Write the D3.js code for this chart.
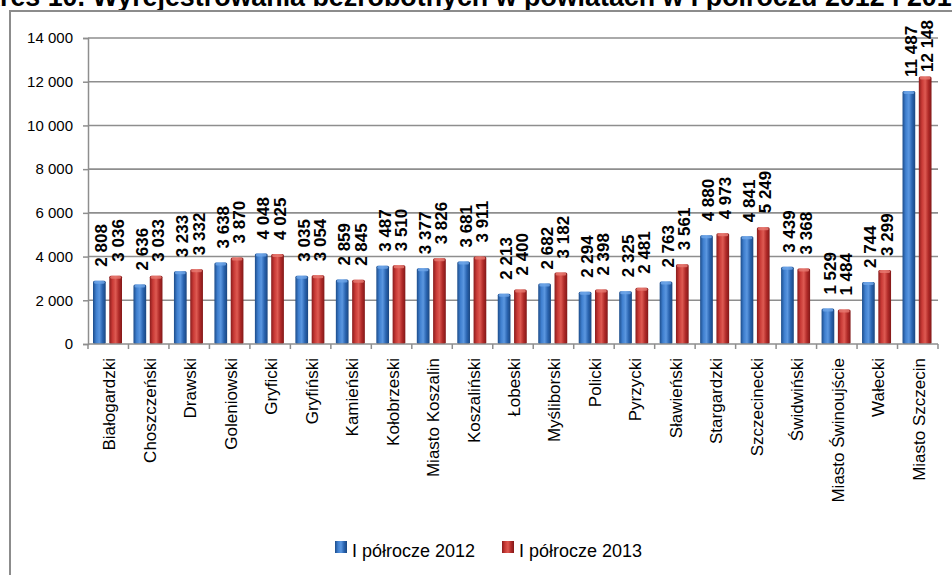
<!DOCTYPE html>
<html>
<head>
<meta charset="utf-8">
<script src="https://cdn.jsdelivr.net/npm/d3@7"></script>
<style>
  body { margin: 0; background: #fff; }
  svg { display: block; font-family: "Liberation Sans", Arial, sans-serif; }
</style>
</head>
<body>
<script>
// Data
const titleText = "Wykres 10. Wyrejestrowania bezrobotnych w powiatach w I półroczu 2012 i 2013";
const categories = ["Białogardzki", "Choszczeński", "Drawski", "Goleniowski", "Gryficki", "Gryfiński",
    "Kamieński", "Kołobrzeski", "Miasto Koszalin", "Koszaliński", "Łobeski", "Myśliborski", "Policki",
    "Pyrzycki", "Sławieński", "Stargardzki", "Szczecinecki", "Świdwiński", "Miasto Świnoujście",
    "Wałecki", "Miasto Szczecin"];
const values2012 = [2808, 2636, 3233, 3638, 4048, 3035, 2859, 3487, 3377, 3681, 2213, 2682, 2294, 2325,
    2763, 4880, 4841, 3439, 1529, 2744, 11487];
const values2013 = [3036, 3033, 3332, 3870, 4025, 3054, 2845, 3510, 3826, 3911, 2400, 3182, 2398, 2481,
    3561, 4973, 5249, 3368, 1484, 3299, 12148];
const seriesNames = ["I półrocze 2012", "I półrocze 2013"];
const yTicks = [0, 2000, 4000, 6000, 8000, 10000, 12000, 14000];

const width = 952, height = 575;
const plot = { left: 88, right: 938, top: 38, bottom: 344 };

const fmt = d3.formatLocale({ decimal: ",", thousands: " ", grouping: [3], currency: ["", ""] }).format(",d");

const svg = d3.select("body").append("svg")
    .attr("width", width)
    .attr("height", height);

// Gradients for the cylinder-like bars
const defs = svg.append("defs");
const grads = [
    { id: "gBlue", stops: ["#1c4c8a", "#3f7fcf", "#5b97e0", "#2a64b0", "#1a4680"] },
    { id: "gRed", stops: ["#8a1c1c", "#c93a36", "#de5a52", "#b02a28", "#821818"] }
];
grads.forEach(g => {
    const lg = defs.append("linearGradient").attr("id", g.id)
        .attr("x1", "0%").attr("x2", "100%").attr("y1", "0%").attr("y2", "0%");
    g.stops.forEach((c, i) => {
        lg.append("stop").attr("offset", (i / (g.stops.length - 1) * 100) + "%").attr("stop-color", c);
    });
});

// Title: only its lower part shows in the original, cut on both sides.
// Size it so "res 10. ... 2012 i 201" fills the width, with "Wyk" off the left edge.
const measure = (txt, size, weight) => {
    const t = svg.append("text").attr("font-weight", weight || "bold").attr("font-size", size).text(txt);
    const w = t.node().getComputedTextLength();
    t.remove();
    return w;
};
const visiblePart = titleText.slice(3, -1);
const titleSize = 20 * width / measure(visiblePart, 20);
svg.append("text")
    .attr("font-weight", "bold")
    .attr("font-size", titleSize)
    .attr("x", -measure("Wyk", titleSize))
    .attr("y", 6)
    .text(titleText);

// Chart frame
svg.append("path")
    .attr("d", `M10,${height + 2}V11H${width + 2}`)
    .attr("fill", "none")
    .attr("stroke", "#8c8c8c")
    .attr("stroke-width", 2);

// Scales
const x0 = d3.scaleBand()
    .domain(categories)
    .range([plot.left, plot.right]);

const x1 = d3.scaleBand()
    .domain([0, 1])
    .range([5, 34])
    .paddingInner(0.22);

const y = d3.scaleLinear()
    .domain([0, 14000])
    .range([plot.bottom, plot.top]);

// Gridlines
svg.append("g")
    .selectAll("line")
    .data(yTicks.filter(d => d > 0))
    .enter()
    .append("line")
    .attr("x1", plot.left)
    .attr("x2", plot.right)
    .attr("y1", d => y(d))
    .attr("y2", d => y(d))
    .attr("stroke", "#8e8e8e")
    .attr("stroke-width", 1.6);

// Y axis
const yAxis = svg.append("g")
    .attr("transform", `translate(${plot.left},0)`)
    .call(d3.axisLeft(y).tickValues(yTicks).tickSize(5).tickPadding(10).tickFormat(fmt));
yAxis.selectAll("text").attr("font-size", 15).attr("fill", "#000").attr("font-family", "Liberation Sans, Arial, sans-serif");
yAxis.selectAll("line").attr("stroke", "#8e8e8e").attr("stroke-width", 1.5);
yAxis.select(".domain").attr("stroke", "#8e8e8e").attr("stroke-width", 1.5);

// Bars
const series = [values2012, values2013];
series.forEach((vals, s) => {
    svg.append("g")
        .selectAll("rect")
        .data(vals)
        .enter()
        .append("rect")
        .attr("x", (d, i) => x0(categories[i]) + x1(s))
        .attr("y", d => y(d) - 2)
        .attr("width", x1.bandwidth())
        .attr("height", d => plot.bottom - y(d) + 2)
        .attr("rx", 1.5)
        .attr("fill", s === 0 ? "url(#gBlue)" : "url(#gRed)");

    // light cap on top of each bar
    svg.append("g")
        .selectAll("rect")
        .data(vals)
        .enter()
        .append("rect")
        .attr("x", (d, i) => x0(categories[i]) + x1(s) + 1)
        .attr("y", d => y(d) - 2)
        .attr("width", x1.bandwidth() - 2)
        .attr("height", 3)
        .attr("rx", 1.5)
        .attr("fill", s === 0 ? "#6fa6e8" : "#e77a72")
        .attr("opacity", 0.8);
});

// X axis line with ticks at band edges
svg.append("line")
    .attr("x1", plot.left).attr("x2", plot.right)
    .attr("y1", plot.bottom).attr("y2", plot.bottom)
    .attr("stroke", "#8e8e8e").attr("stroke-width", 1.5);
svg.append("g")
    .selectAll("line")
    .data(categories.map(c => x0(c)).concat([plot.right]))
    .enter()
    .append("line")
    .attr("x1", d => d).attr("x2", d => d)
    .attr("y1", plot.bottom).attr("y2", plot.bottom + 5)
    .attr("stroke", "#8e8e8e").attr("stroke-width", 1.5);

// Category labels
svg.append("g")
    .selectAll("text")
    .data(categories)
    .enter()
    .append("text")
    .attr("transform", d => `translate(${x0(d) + x0.bandwidth() / 2 + 7},358) rotate(-90)`)
    .attr("text-anchor", "end")
    .attr("font-size", 17)
    .text(d => d);

// Data labels (kept inside the chart frame, like the original)
series.forEach((vals, s) => {
    svg.append("g")
        .selectAll("text")
        .data(vals)
        .enter()
        .append("text")
        .attr("transform", (d, i) => {
            const cx = x0(categories[i]) + x1(s) + x1.bandwidth() / 2 + 8;
            const len = measure(fmt(d), 17);
            const bottom = Math.max(y(d) - 16, 20 + len);
            return `translate(${cx},${bottom}) rotate(-90)`;
        })
        .attr("font-size", 17)
        .attr("font-weight", "bold")
        .text(d => fmt(d));
});

// Legend
const legendX = [335, 502];
seriesNames.forEach((name, i) => {
    svg.append("rect")
        .attr("x", legendX[i])
        .attr("y", 541)
        .attr("width", 12)
        .attr("height", 12)
        .attr("fill", i === 0 ? "url(#gBlue)" : "url(#gRed)");
    svg.append("text")
        .attr("x", legendX[i] + 17)
        .attr("y", 557)
        .attr("font-size", 18)
        .text(name);
});
</script>
</body>
</html>
